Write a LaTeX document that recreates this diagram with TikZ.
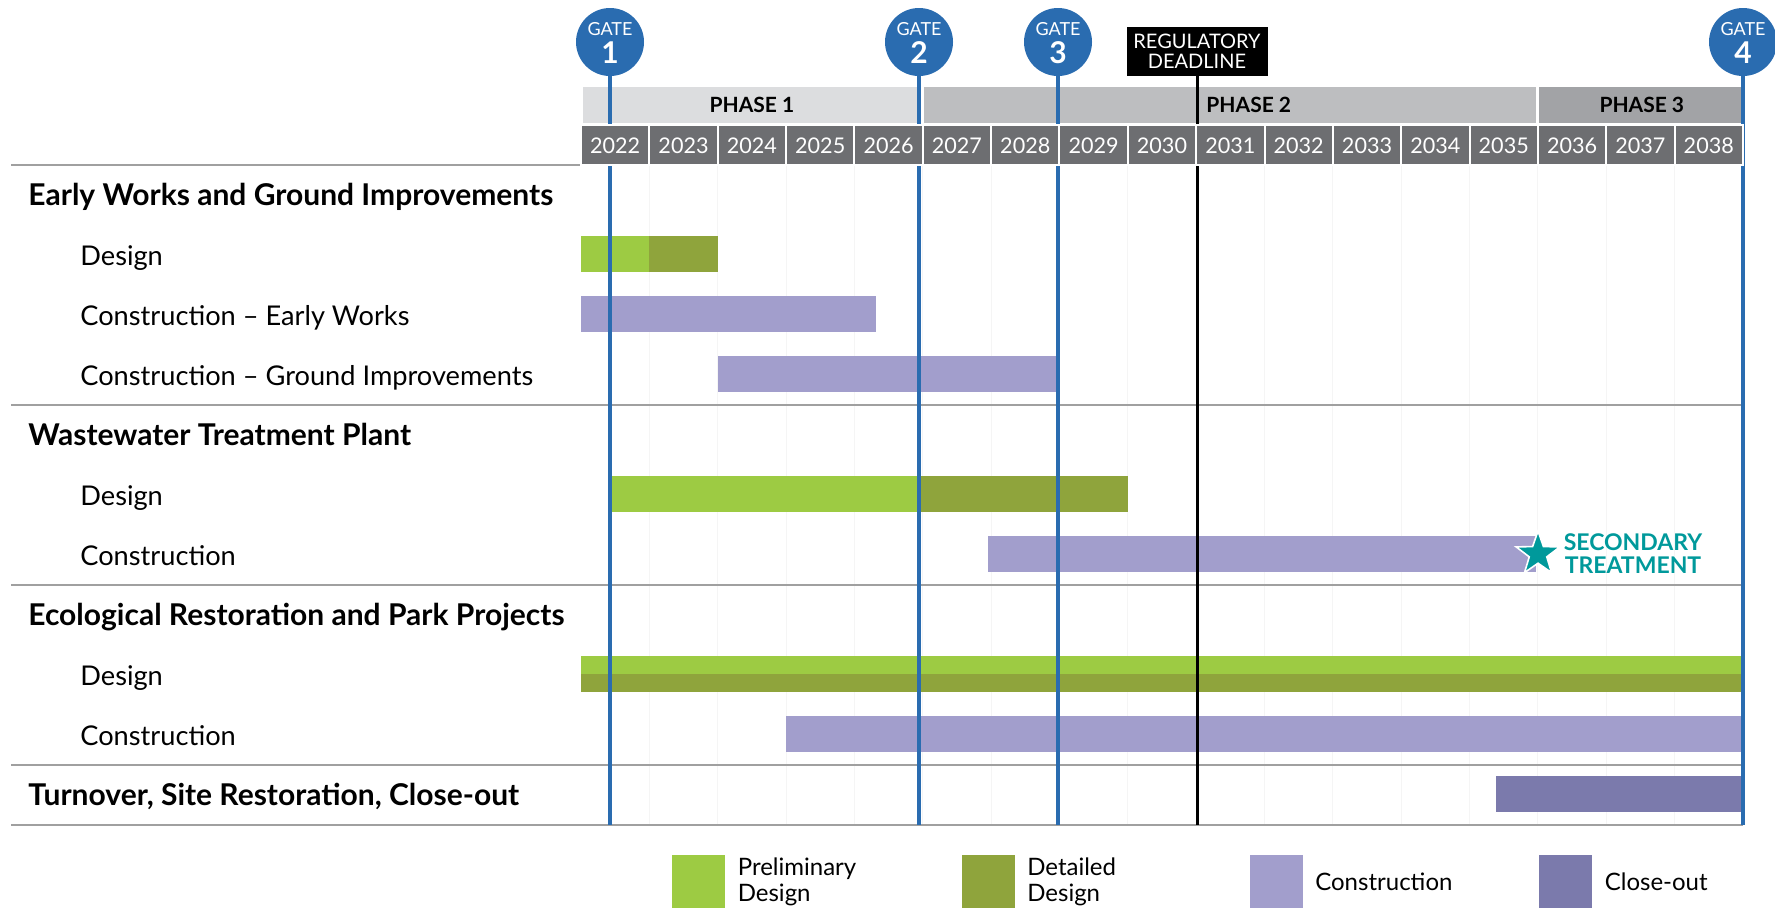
\documentclass[tikz,border=0pt]{standalone}
\usepackage{fontspec}
\setmainfont{Lato}
\usetikzlibrary{positioning,shapes.geometric}

\definecolor{gateblue}{RGB}{42,108,176}
\definecolor{prelim}{RGB}{157,203,67}
\definecolor{detail}{RGB}{143,164,60}
\definecolor{constr}{RGB}{162,158,204}
\definecolor{closeout}{RGB}{123,122,172}
\definecolor{tealstar}{RGB}{0,153,155}
\definecolor{yeargray}{RGB}{109,110,113}
\definecolor{phaseA}{RGB}{220,221,223}
\definecolor{phaseB}{RGB}{189,190,192}
\definecolor{phaseC}{RGB}{162,163,166}
\definecolor{rulegray}{RGB}{160,160,160}

\begin{document}
\begin{tikzpicture}[x=0.5pt,y=-0.5pt,
    grouplbl/.style={anchor=base west,inner sep=0,font=\fontsize{15}{17}\selectfont\bfseries},
    tasklbl/.style={anchor=base west,inner sep=0,font=\fontsize{13.6}{16}\selectfont},
    gate/.style={circle,fill=gateblue,minimum size=34pt,inner sep=0},
    gatetxt/.style={text=white,inner sep=0,font=\fontsize{9}{9}\selectfont},
    gatenum/.style={text=white,inner sep=0,font=\fontsize{15}{15}\selectfont\bfseries},
    gateline/.style={gateblue,line width=1.6pt},
    phasecell/.style={draw=white,line width=1.5pt},
    phasetxt/.style={inner sep=0,font=\fontsize{10.5}{12}\selectfont\bfseries},
    yearcell/.style={fill=yeargray,draw=white,line width=1pt},
    yeartxt/.style={text=white,inner sep=0,font=\fontsize{10.8}{12}\selectfont},
    yeargrid/.style={black!4,line width=0.5pt},
    rowrule/.style={rulegray,line width=0.8pt},
    deadline/.style={fill=black,text=white,align=center,minimum width=70.5pt,
      minimum height=24.5pt,inner sep=0,font=\fontsize{10}{10}\selectfont},
    legbox/.style={minimum size=26.5pt,inner sep=0},
    legtxt/.style={align=left,inner sep=0,font=\fontsize{12}{13}\selectfont},
    bartxt/.style={text=tealstar,inner sep=0,anchor=base,font=\fontsize{11.5}{11.5}\selectfont\bfseries}]

  \useasboundingbox (0,0) rectangle (1775,912);

  % Fases, cuadrícula y barras (x en años desde 2022)
  \begin{scope}[shift={(581,0)},x=34.175pt]
    % líneas de años
    \foreach \i in {1,...,16}
      \draw[yeargrid] (\i,165) -- (\i,825);
    % fases
    \draw[phasecell,fill=phaseA] (0,85) rectangle (5,124);
    \draw[phasecell,fill=phaseB] (5,85) rectangle (14,124);
    \draw[phasecell,fill=phaseC] (14,85) rectangle (17,124);
    \node[phasetxt] (ph1) at (2.5,104.5) {PHASE 1};
    \node[phasetxt] (ph2) at (9.77,104.5) {PHASE 2};
    \node[phasetxt] (ph3) at (15.52,104.5) {PHASE 3};
    % Early Works and Ground Improvements
    \fill[prelim] (0,236) rectangle (1,272);
    \fill[detail] (1,236) rectangle (2,272);
    \fill[constr] (0,296) rectangle (4.32,332);
    \fill[constr] (2,356) rectangle (6.98,392);
    % Wastewater Treatment Plant
    \fill[prelim] (0.43,476) rectangle (4.93,512);
    \fill[detail] (4.93,476) rectangle (8,512);
    \fill[constr] (5.95,536) rectangle (13.97,572);
    % Ecological Restoration and Park Projects
    \fill[prelim] (0,656) rectangle (17,674);
    \fill[detail] (0,674) rectangle (17,692);
    \fill[constr] (3,716) rectangle (17,752);
    % Close-out
    \fill[closeout] (13.38,776) rectangle (17,812);
  \end{scope}

  % Separadores de grupos
  \draw[rowrule] (11,165) -- (581,165);
  \foreach \y in {405,585,765,825}
    \draw[rowrule] (11,\y) -- (1743,\y);

  % Hitos
  \foreach \n/\x in {1/610,2/919,3/1058,4/1743} {
    \node[gate] (g\n) at (\x,42) {};
    \node[gatetxt] (gt\n) at ([yshift=6.5pt]g\n.center) {GATE};
    \node[gatenum] (gn\n) at ([yshift=-5.5pt]g\n.center) {\n};
    \coordinate (ge\n) at (\x,825);
    \draw[gateline] (g\n.south) -- (ge\n);
  }
  % Fecha límite
  \node[deadline] (dl) at (1197,51.5) {REGULATORY\\DEADLINE};
  \coordinate (dlend) at (1197,825);
  \draw[black,line width=1.5pt] (dl.south) -- (dlend);

  % Años
  \begin{scope}[shift={(581,0)},x=34.175pt]
    \foreach \i in {0,...,16} {
      \pgfmathtruncatemacro\yr{2022+\i}
      \draw[yearcell] (\i,125) rectangle (\i+1,165);
      \node[yeartxt] (y\yr) at (\i+0.5,145.5) {\yr};
    }
  \end{scope}

  % Tratamiento secundario
  \node[star,star points=5,star point ratio=2.5,fill=tealstar,draw=white,
    line width=0.8pt,minimum size=23pt,inner sep=0] (st) at (1538,554) {};
  \node[bartxt] (st1) at (1633,550) {SECONDARY};
  \node[bartxt] (st2) at (1633,573) {TREATMENT};

  % Etiquetas de filas
  \node[grouplbl] (ew) at (28,205) {Early Works and Ground Improvements};
  \node[tasklbl] (ewd) at (80,265) {Design};
  \node[tasklbl] (ewc) at (80,325) {Construction – Early Works};
  \node[tasklbl] (ewg) at (80,385) {Construction – Ground Improvements};
  \node[grouplbl] (wt) at (28,445) {Wastewater Treatment Plant};
  \node[tasklbl] (wtd) at (80,505) {Design};
  \node[tasklbl] (wtc) at (80,565) {Construction};
  \node[grouplbl] (er) at (28,625) {Ecological Restoration and Park Projects};
  \node[tasklbl] (erd) at (80,685) {Design};
  \node[tasklbl] (erc) at (80,745) {Construction};
  \node[grouplbl] (tc) at (28,805) {Turnover, Site Restoration, Close-out};

  % Leyenda
  \foreach \c/\x/\lbl in {prelim/698.5/{Preliminary\\Design},detail/988/{Detailed\\Design},
      constr/1276/Construction,closeout/1565.5/Close-out} {
    \node[legbox,fill=\c] (b\c) at (\x,881.5) {};
    \node[legtxt,right=6pt of b\c] (t\c) {\lbl};
  }
\end{tikzpicture}
\end{document}
